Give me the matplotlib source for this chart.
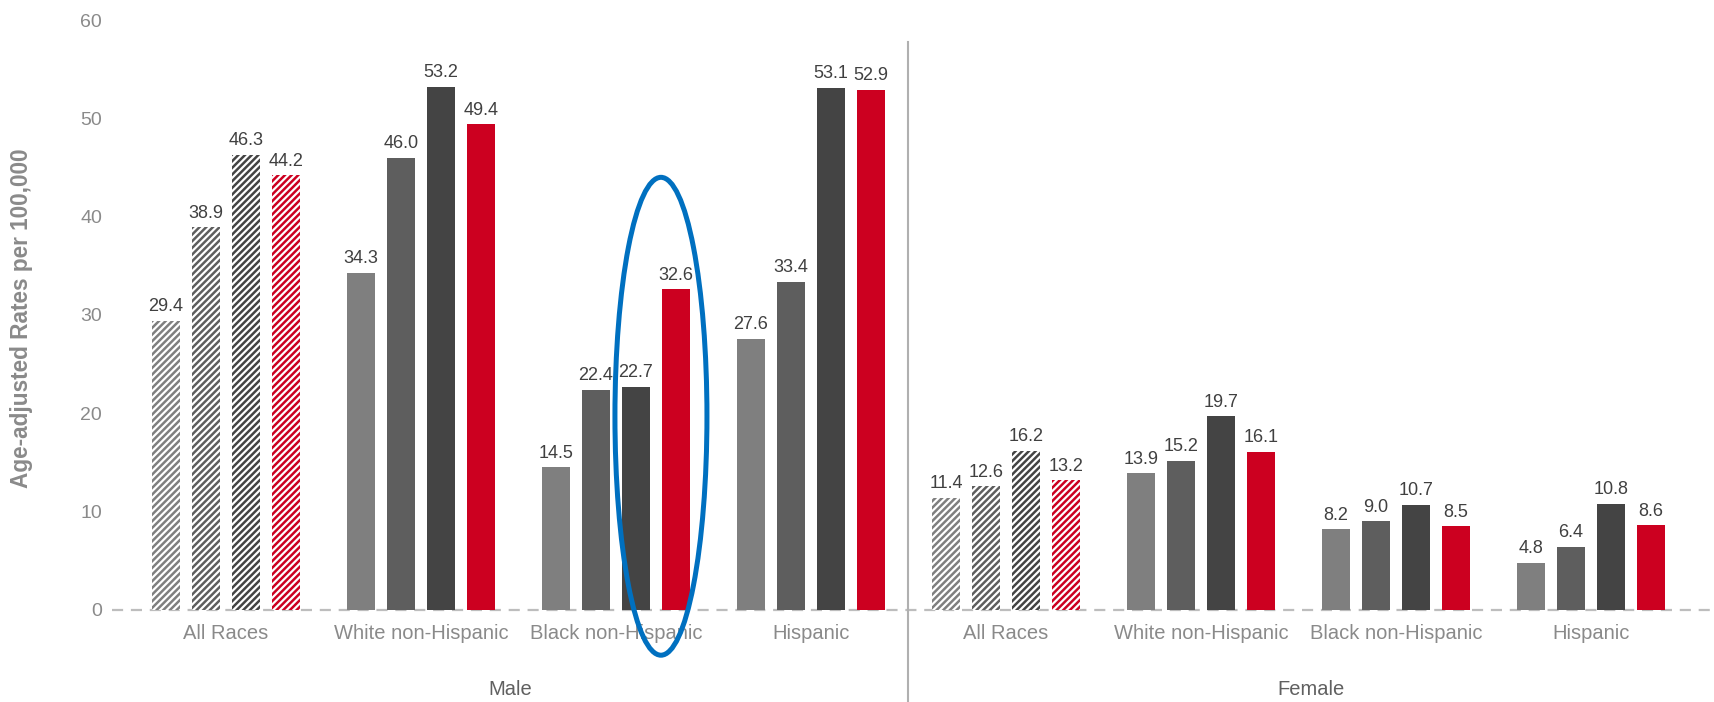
import matplotlib.pyplot as plt
from matplotlib.patches import Ellipse

plt.rcParams['font.family'] = ['Liberation Sans', 'DejaVu Sans']
plt.rcParams['hatch.linewidth'] = 1.8

# age-adjusted rates per 100,000, by sex and race/ethnicity
sexes = ['Male', 'Female']
races = ['All Races', 'White non-Hispanic', 'Black non-Hispanic', 'Hispanic']
male_rates = [
    [29.4, 38.9, 46.3, 44.2],
    [34.3, 46.0, 53.2, 49.4],
    [14.5, 22.4, 22.7, 32.6],
    [27.6, 33.4, 53.1, 52.9],
]
female_rates = [
    [11.4, 12.6, 16.2, 13.2],
    [13.9, 15.2, 19.7, 16.1],
    [8.2, 9.0, 10.7, 8.5],
    [4.8, 6.4, 10.8, 8.6],
]
bar_colors = ['#7f7f7f', '#5e5e5e', '#444444', '#cc0020']

group_step = 4.875
bar_w = 0.7

fig = plt.figure(figsize=(17.14, 7.02), dpi=100)
ax = fig.add_axes([0.0653, 0.1311, 0.9347, 0.8404])

tick_pos = []
tick_lab = []
g = 0
for sex, rates in zip(sexes, [male_rates, female_rates]):
    for race, vals in zip(races, rates):
        x0 = g * group_step
        for i, v in enumerate(vals):
            x = x0 + i
            if race == 'All Races':
                ax.bar(x, v, width=bar_w, facecolor='white', edgecolor=bar_colors[i],
                       hatch='/////', linewidth=0, zorder=2)
            else:
                ax.bar(x, v, width=bar_w, color=bar_colors[i], linewidth=0, zorder=2)
            ax.annotate(f'{v:.1f}', (x, v), xytext=(0, 4), textcoords='offset points',
                        ha='center', va='bottom', fontsize=13, color='#404040')
        tick_pos.append(x0 + 1.5)
        tick_lab.append(race)
        g += 1

ax.set_xlim(-1.35, 38.7)
ax.set_ylim(0, 60)
ax.set_yticks(range(0, 61, 10))
ax.set_xticks(tick_pos)
ax.set_xticklabels(tick_lab, fontsize=14.5)
ax.tick_params(axis='both', length=0, labelcolor='#8a8a8a')
ax.tick_params(axis='y', pad=7, labelsize=14)
ax.tick_params(axis='x', pad=10)
for s in ax.spines.values():
    s.set_visible(False)

# dashed zero line
ax.axhline(0, color='#bdbdbd', lw=1.6, ls=(0, (5, 3.5)), zorder=1, clip_on=False)

# divider between Male and Female panels
sep_x = 4 * group_step - 0.95
ax.axvline(sep_x, ymin=-0.16, ymax=0.963, color='#b0b0b0', lw=1.5, clip_on=False)

# sex labels centred on each half
ax.text((-1.35 + sep_x) / 2, -0.135, 'Male', transform=ax.get_xaxis_transform(),
        ha='center', va='center', fontsize=14.5, color='#606060')
ax.text((sep_x + 38.7) / 2, -0.135, 'Female', transform=ax.get_xaxis_transform(),
        ha='center', va='center', fontsize=14.5, color='#606060')

fig.text(22 / 1714, 1 - 318 / 702, 'Age-adjusted Rates per 100,000', rotation=90,
         ha='center', va='center', fontsize=16.3, fontweight='bold', color='#8a8a8a')

# highlight around Black non-Hispanic male, latest two periods
ax.add_patch(Ellipse((12.375, 19.7), 2.3, 48.6, fill=False, edgecolor='#0070c0',
                     lw=3.6, clip_on=False, zorder=3))

fig.savefig('out.png', dpi=100)
